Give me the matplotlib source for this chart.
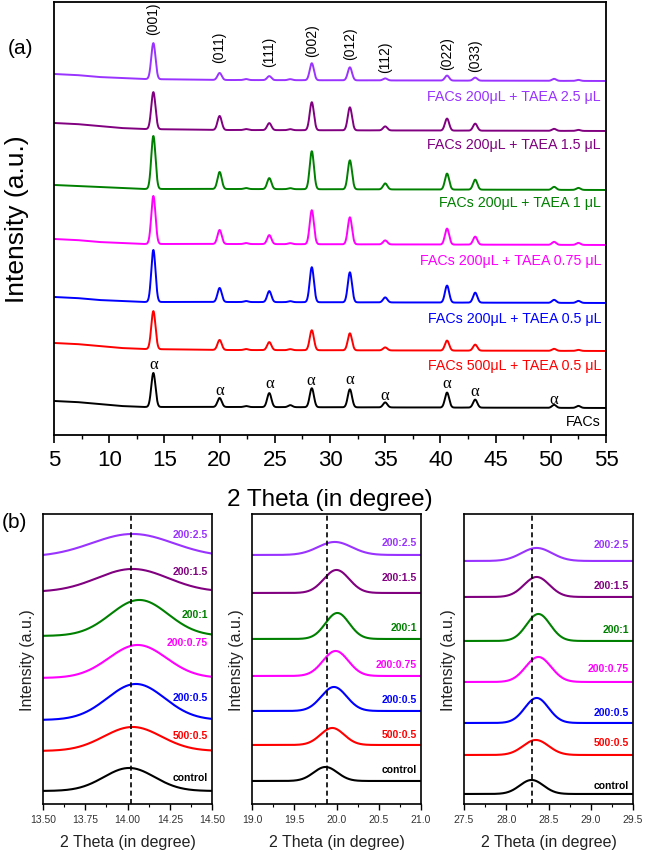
import numpy as np
import matplotlib
matplotlib.use("Agg")
import matplotlib.pyplot as plt

plt.rcParams['font.family'] = ['Liberation Sans', 'DejaVu Sans']

# ---- samples (top to bottom in the stack is reverse of this list) ----
colors = ['#000000', '#FF0000', '#0000FF', '#FF00FF', '#008000', '#800080', '#9933FF']
top_labels = ['FACs', 'FACs 500\u03bcL + TAEA 0.5 \u03bcL', 'FACs 200\u03bcL + TAEA 0.5 \u03bcL',
              'FACs 200\u03bcL + TAEA 0.75 \u03bcL', 'FACs 200\u03bcL + TAEA 1 \u03bcL',
              'FACs 200\u03bcL + TAEA 1.5 \u03bcL', 'FACs 200\u03bcL + TAEA 2.5 \u03bcL']
short_labels = ['control', '500:0.5', '200:0.5', '200:0.75', '200:1', '200:1.5', '200:2.5']

# ---- panel (a): full pattern, peak table ----
peak_pos = [14.0, 20.0, 22.4, 24.5, 26.4, 28.35, 31.8, 35.0, 40.6, 43.15, 50.3, 52.5]
peak_h = [
    [34, 9, 1, 14, 2, 19, 18, 5, 15, 8, 3, 2],    # FACs
    [38, 10, 1, 8, 1, 20, 17, 3, 10, 6, 2, 1],    # 500:0.5
    [52, 14, 1, 11, 1, 35, 30, 5, 17, 10, 3, 2],  # 200:0.5
    [48, 14, 1, 9, 1, 34, 27, 4, 16, 8, 3, 2],    # 200:0.75
    [53, 17, 1, 11, 1, 38, 29, 6, 16, 10, 3, 2],  # 200:1
    [37, 14, 1, 7, 1, 28, 23, 4, 12, 7, 2, 1],    # 200:1.5
    [36, 7, 1, 4, 1, 17, 13, 2, 5, 3, 2, 1],      # 200:2.5
]
# baseline read at these 2theta values
base_x = [5, 7, 9, 11, 13, 20, 55]
base_y = [
    [34, 33, 31, 29, 28, 28, 27],
    [92, 91, 89, 87, 86, 85, 84],
    [138, 137, 135, 134, 133, 133, 132],
    [196, 195, 193, 192, 191, 191, 190],
    [250, 249, 248, 247, 246, 246, 245],
    [312, 311, 309, 307, 306, 305, 304],
    [361, 360, 358, 357, 356, 355, 354],
]
hkl = ['(001)', '(011)', '(111)', '(002)', '(012)', '(112)', '(022)', '(033)']
hkl_x = [14.0, 20.0, 24.5, 28.35, 31.8, 35.0, 40.6, 43.15]
hkl_y = [401, 373, 369, 379, 376, 363, 366, 364]
alpha_x = [14.0, 20.0, 24.5, 28.3, 31.8, 35.0, 40.6, 43.1, 50.3]
alpha_y = [71, 45, 52, 55, 56, 40, 52, 44, 36]
top_label_y = [14, 70, 117, 175, 233, 291, 339]

# ---- panel (b): zoomed peaks: baseline, centre, height, width ----
zoom_ranges = [(13.5, 14.5), (19.0, 21.0), (27.5, 29.5)]
zoom_ticks = [np.arange(13.5, 14.51, 0.25), np.arange(19.0, 21.01, 0.5), np.arange(27.5, 29.51, 0.5)]
zoom_fmt = ['%.2f', '%.1f', '%.1f']
zoom_ref = [14.02, 19.89, 28.31]
zoom_base = [
    [13, 53, 84, 126, 168, 212, 247],
    [23, 59, 93, 128, 165, 211, 249],
    [10, 49, 81, 122, 163, 207, 243],
]
zoom_center = [
    [14.01, 14.03, 14.05, 14.06, 14.07, 14.03, 14.03],
    [19.87, 19.95, 19.97, 19.99, 20.01, 20.00, 19.98],
    [28.30, 28.35, 28.36, 28.38, 28.38, 28.36, 28.36],
]
zoom_height = [
    [23, 24, 36, 33, 36, 23, 23],
    [14, 17, 24, 25, 26, 23, 13],
    [14, 15, 25, 25, 27, 20, 13],
]
zoom_sigma = [
    [0.15, 0.17, 0.17, 0.17, 0.17, 0.21, 0.24],
    [0.14, 0.14, 0.15, 0.15, 0.14, 0.15, 0.20],
    [0.14, 0.15, 0.14, 0.15, 0.14, 0.15, 0.18],
]
zoom_label_y = [
    [27, 69, 107, 162, 190, 233, 270],
    [35, 70, 105, 140, 177, 227, 262],
    [19, 62, 92, 136, 175, 219, 260],
]


def gauss(x, c, h, s):
    return h * np.exp(-0.5 * ((x - c) / s) ** 2)


fig = plt.figure(figsize=(6.46, 8.53), dpi=100)

# %% (a)
ax = fig.add_axes([0.0836, 0.4889, 0.8545, 0.5076])
x = np.linspace(5, 55, 6000)
for i in range(len(colors)):
    y = np.interp(x, base_x, base_y[i])
    for p, h in zip(peak_pos, peak_h[i]):
        y = y + gauss(x, p, h, 0.19)
    ax.plot(x, y, color=colors[i], lw=1.4)
    ax.text(54.55, top_label_y[i], top_labels[i], color=colors[i], fontsize=10.3,
            ha='right', va='center')

for lab, px, py in zip(hkl, hkl_x, hkl_y):
    ax.text(px, py, lab, rotation=90, ha='center', va='bottom', fontsize=10)
for px, py in zip(alpha_x, alpha_y):
    ax.text(px, py, '\u03b1', ha='center', va='center', fontsize=12, family='Liberation Serif')

ax.set_xlim(5, 55)
ax.set_ylim(0, 433)
ax.set_yticks([])
ax.set_xticks(np.arange(5, 56, 5))
ax.set_xticks(np.arange(7.5, 55, 5), minor=True)
ax.tick_params(axis='x', which='major', labelsize=16, length=6, width=1.2, pad=4)
ax.tick_params(axis='x', which='minor', length=3, width=1.0)
for sp in ax.spines.values():
    sp.set_linewidth(1.3)
ax.set_xlabel('2 Theta (in degree)', fontsize=17.5, labelpad=13)
ax.set_ylabel('Intensity (a.u.)', fontsize=19, labelpad=18)
fig.text(0.032, 0.943, '(a)', fontsize=15, ha='center', va='center')

# %% (b)
lefts = [0.0666, 0.3901, 0.7183]
for k in range(3):
    axb = fig.add_axes([lefts[k], 0.0563, 0.2616, 0.3400])
    lo, hi = zoom_ranges[k]
    xb = np.linspace(lo, hi, 1500)
    for i in range(len(colors)):
        yb = zoom_base[k][i] + gauss(xb, zoom_center[k][i], zoom_height[k][i], zoom_sigma[k][i])
        axb.plot(xb, yb, color=colors[i], lw=1.5)
        axb.text(lo + (hi - lo) * 0.976, zoom_label_y[k][i], short_labels[i], color=colors[i],
                 fontsize=7.5, fontweight='bold', ha='right', va='center')
    axb.axvline(zoom_ref[k], color='black', lw=1.2, ls=(0, (3, 2)))
    axb.set_xlim(lo, hi)
    axb.set_ylim(0, 290)
    axb.set_yticks([])
    axb.set_xticks(zoom_ticks[k])
    axb.set_xticklabels([zoom_fmt[k] % t for t in zoom_ticks[k]])
    axb.set_xticks(zoom_ticks[k][:-1] + (zoom_ticks[k][1] - zoom_ticks[k][0]) / 2, minor=True)
    axb.tick_params(axis='x', which='major', labelsize=7.5, labelcolor='#333333', length=4, width=1.0)
    axb.tick_params(axis='x', which='minor', length=2, width=0.8)
    for sp in axb.spines.values():
        sp.set_linewidth(1.2)
    axb.set_xlabel('2 Theta (in degree)', fontsize=11.5, color='#222222', labelpad=7)
    axb.set_ylabel('Intensity (a.u.)', fontsize=11.5, color='#222222', labelpad=6)
fig.text(0.022, 0.388, '(b)', fontsize=15, ha='center', va='center')

fig.savefig('out.png', dpi=100)
